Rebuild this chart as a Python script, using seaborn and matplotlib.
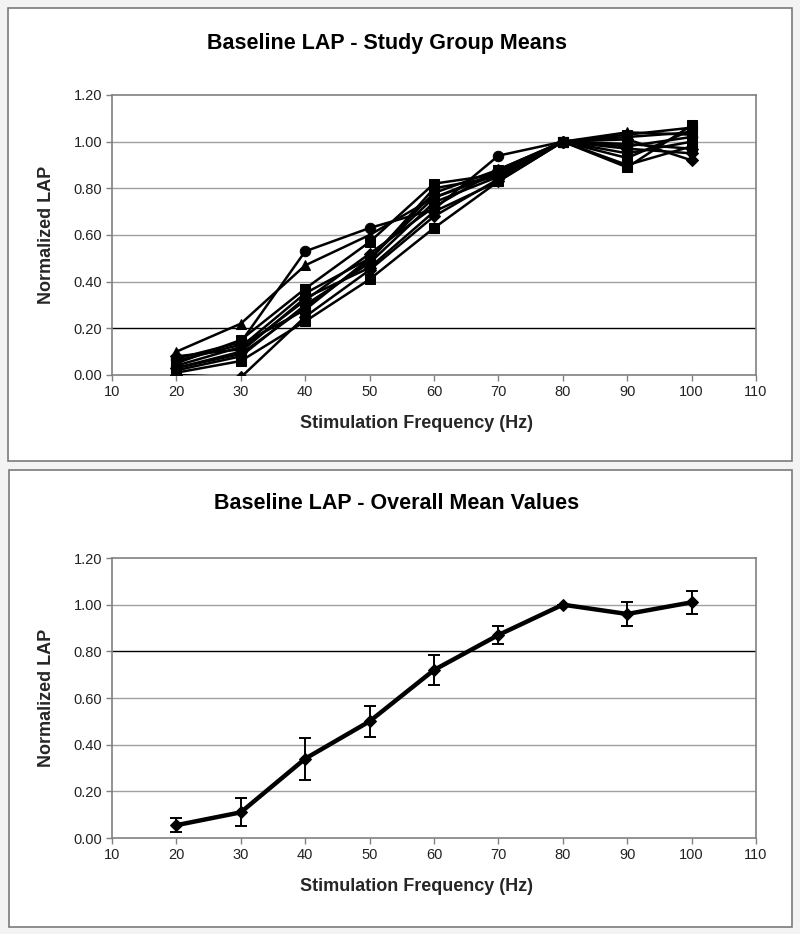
import matplotlib
matplotlib.use("Agg")
import matplotlib.pyplot as plt
import seaborn as sns
import pandas as pd
from matplotlib.patches import Rectangle

sns.set_theme(style="white")
plt.rcParams['font.family'] = ['Liberation Sans', 'DejaVu Sans']

freq = [20, 30, 40, 50, 60, 70, 80, 90, 100]

g1 = [0.07, 0.14, 0.53, 0.63, 0.71, 0.94, 1.00, 0.98, 1.02]
g2 = [0.10, 0.22, 0.47, 0.60, 0.76, 0.87, 1.00, 1.04, 1.03]
g3 = [0.05, 0.15, 0.37, 0.57, 0.82, 0.86, 1.00, 0.89, 1.07]
g4 = [0.04, 0.12, 0.35, 0.50, 0.78, 0.88, 1.00, 0.93, 1.05]
g5 = [0.02, 0.08, 0.30, 0.48, 0.74, 0.85, 1.00, 0.95, 1.00]
g6 = [0.03, 0.10, 0.33, 0.46, 0.70, 0.83, 1.00, 1.01, 0.92]
g7 = [0.01, 0.06, 0.23, 0.41, 0.63, 0.83, 1.00, 0.90, 0.98]
g8 = [0.00, -0.01, 0.25, 0.45, 0.68, 0.84, 1.00, 0.97, 0.95]
g9 = [0.06, 0.13, 0.28, 0.50, 0.76, 0.86, 1.00, 1.02, 1.04]
g10 = [0.08, 0.11, 0.32, 0.52, 0.72, 0.88, 1.00, 0.99, 0.97]
g11 = [0.03, 0.09, 0.29, 0.49, 0.80, 0.85, 1.00, 1.03, 1.06]
groups = [g1, g2, g3, g4, g5, g6, g7, g8, g9, g10, g11]
group_markers = ['o', '^', 's', 's', 's', 'D', 's', 'D', 's', 'D', 's']

mean_vals = [0.055, 0.11, 0.34, 0.50, 0.72, 0.87, 1.00, 0.96, 1.01]
mean_err = [0.03, 0.06, 0.09, 0.065, 0.065, 0.04, 0.0, 0.05, 0.05]

yticks = [0.0, 0.2, 0.4, 0.6, 0.8, 1.0, 1.2]
xticks = [10, 20, 30, 40, 50, 60, 70, 80, 90, 100, 110]

W, H = 800, 934
fig = plt.figure(figsize=(W / 100, H / 100), dpi=100)
fig.patch.set_facecolor('#f3f3f3')

def px_rect(x0, y0, x1, y1):
    return [x0 / W, 1 - y1 / H, (x1 - x0) / W, (y1 - y0) / H]

# panel backgrounds (drawn on a background axes so they stay behind the charts)
bg = fig.add_axes([0, 0, 1, 1], zorder=-10)
bg.set_xlim(0, W)
bg.set_ylim(H, 0)
bg.axis('off')
for (x0, y0, x1, y1) in [(8, 8, 792, 461), (9, 470, 792, 927)]:
    bg.add_patch(Rectangle((x0, y0), x1 - x0, y1 - y0, facecolor='white',
                           edgecolor='#7a7a7a', linewidth=1.2))

ax1 = fig.add_axes(px_rect(112, 95, 756, 375))
ax2 = fig.add_axes(px_rect(112, 558, 756, 838))

def style_axes(ax, dark_line):
    ax.set_xlim(10, 110)
    ax.set_ylim(0, 1.2)
    ax.set_xticks(xticks)
    ax.set_yticks(yticks)
    ax.set_xticklabels([str(t) for t in xticks])
    ax.set_yticklabels([f"{t:.2f}" for t in yticks])
    ax.set_facecolor('white')
    for y in yticks[1:-1]:
        ax.axhline(y, color='black' if abs(y - dark_line) < 1e-9 else '#a0a0a0',
                   linewidth=1.0, zorder=0.5)
    for s in ax.spines.values():
        s.set_color('#808080')
        s.set_linewidth(1.2)
        s.set_visible(True)
    ax.tick_params(axis='both', which='major', direction='out', length=4, width=1,
                   color='#808080', labelsize=10.5, labelcolor='#222222', pad=3,
                   left=True, bottom=True)
    ax.set_xlabel('Stimulation Frequency (Hz)', fontsize=13, fontweight='bold')
    ax.set_ylabel('Normalized LAP', fontsize=13, fontweight='bold')
    ax.xaxis.set_label_coords((417 - 112) / 644, -40 / 280)
    ax.yaxis.set_label_coords(-(112 - 55) / 644, 0.5)

# top chart
rows = []
for i, vals in enumerate(groups):
    for f, v in zip(freq, vals):
        rows.append({'freq': f, 'val': v, 'group': f'G{i + 1}'})
df = pd.DataFrame(rows)
for i, m in enumerate(group_markers):
    sub = df[df['group'] == f'G{i + 1}']
    sns.lineplot(data=sub, x='freq', y='val', ax=ax1, color='black', linewidth=1.8,
                 marker=m, markersize=7.5 if m != 'D' else 6.5, markeredgecolor='black',
                 markerfacecolor='black', legend=False, zorder=3)
style_axes(ax1, 0.2)
fig.text(387 / W, 1 - 43 / H, 'Baseline LAP - Study Group Means', ha='center', va='center',
         fontsize=15.5, fontweight='bold', color='black')

# bottom chart
dfm = pd.DataFrame({'freq': freq, 'val': mean_vals, 'err': mean_err})
ax2.errorbar(dfm['freq'], dfm['val'], yerr=dfm['err'], fmt='none', ecolor='black',
             elinewidth=1.4, capsize=4, capthick=1.4, zorder=3)
sns.lineplot(data=dfm, x='freq', y='val', ax=ax2, color='black', linewidth=3.2,
             marker='D', markersize=6.5, markeredgecolor='black', markerfacecolor='black',
             legend=False, zorder=4)
style_axes(ax2, 0.8)
fig.text(397 / W, 1 - 504 / H, 'Baseline LAP - Overall Mean Values', ha='center', va='center',
         fontsize=15.5, fontweight='bold', color='black')

fig.savefig('out.png', dpi=100, facecolor=fig.get_facecolor())
